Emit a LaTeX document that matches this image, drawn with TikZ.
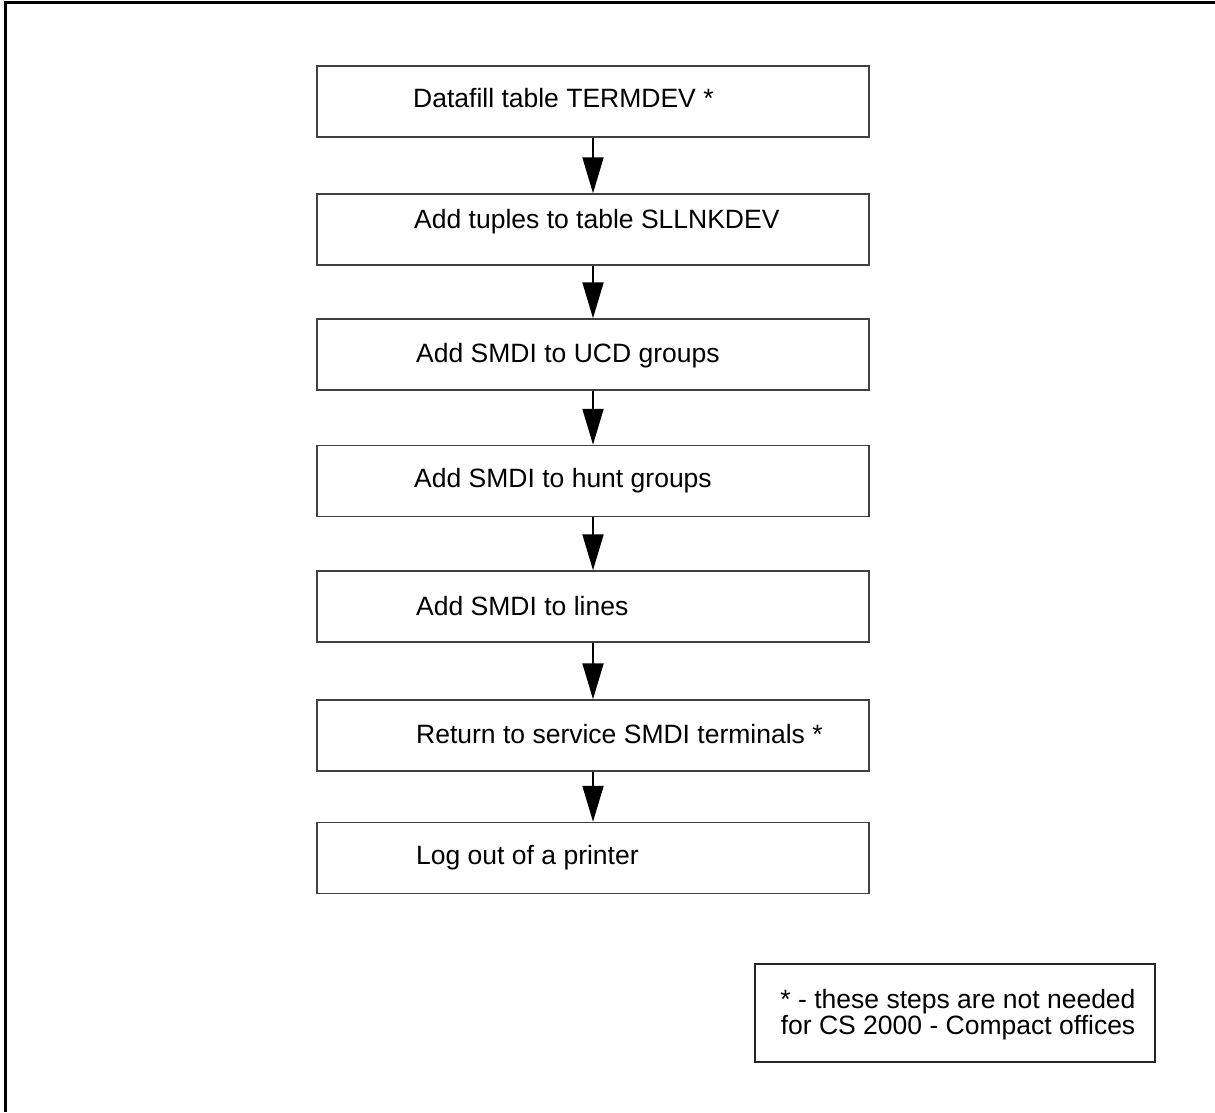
\documentclass[tikz,border=0pt]{standalone}
\usepackage{fontspec}
\setmainfont{Liberation Sans}
\usetikzlibrary{arrows.meta}
\begin{document}
\begin{tikzpicture}[x=1pt,y=-1pt,
  stepbox/.style={draw=black!75,line width=1.5pt,minimum width=552pt,minimum height=71pt,inner sep=0pt},
  steptext/.style={anchor=west,inner sep=0pt,font=\fontsize{26.5}{30}\selectfont},
  flow/.style={line width=2pt,-{Triangle[length=36pt,width=21pt]}},
  notebox/.style={draw=black!85,line width=1.5pt,minimum width=400pt,minimum height=98pt,inner sep=0pt},
  notetext/.style={align=center,inner sep=0pt,font=\fontsize{26.5}{26}\selectfont}]
\useasboundingbox (0,0) rectangle (1215,1112);
% page frame (left and top edges)
\draw[line width=3pt] (5,1112) -- (5,2) -- (1215,2);
% process steps
\node[stepbox] (b1) at (593,101.5) {};
\node[stepbox] (b2) at (593,229.5) {};
\node[stepbox] (b3) at (593,354.5) {};
\node[stepbox] (b4) at (593,481) {};
\node[stepbox] (b5) at (593,606.5) {};
\node[stepbox] (b6) at (593,735.5) {};
\node[stepbox] (b7) at (593,858) {};
\node[steptext] (t1) at (413,98) {Datafill table TERMDEV *};
\node[steptext] (t2) at (414,222) {Add tuples to table SLLNKDEV};
\node[steptext] (t3) at (416,356) {Add SMDI to UCD groups};
\node[steptext] (t4) at (414,481) {Add SMDI to hunt groups};
\node[steptext] (t5) at (416,606) {Add SMDI to lines};
\node[steptext] (t6) at (416,734) {Return to service SMDI terminals *};
\node[steptext] (t7) at (416,858) {Log out of a printer};
% connectors
\foreach \a/\b in {b1/b2,b2/b3,b3/b4,b4/b5,b5/b6,b6/b7}
  \draw[flow] (\a.south) -- (\b.north);
% footnote
\node[notebox] (note) at (955,1013) {};
\node[notetext] (nt) at (958,1015) {* - these steps are not needed\\for CS 2000 - Compact offices};
\end{tikzpicture}
\end{document}
